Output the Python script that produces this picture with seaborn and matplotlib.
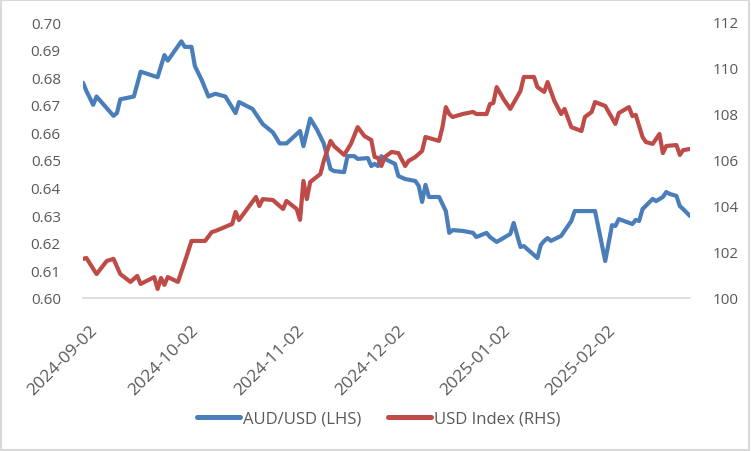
import matplotlib
matplotlib.use("Agg")
import matplotlib.pyplot as plt
import matplotlib.dates as mdates
import matplotlib.ticker as mticker
import matplotlib.transforms as mtransforms
from matplotlib.lines import Line2D
from matplotlib.patches import Rectangle
import seaborn as sns
import pandas as pd

# ---------------- data ----------------
aud_dates = [
    "2024-09-02", "2024-09-03", "2024-09-05", "2024-09-06", "2024-09-11", "2024-09-12",
    "2024-09-13", "2024-09-17", "2024-09-19", "2024-09-24", "2024-09-26", "2024-09-27",
    "2024-10-01", "2024-10-02", "2024-10-04", "2024-10-05", "2024-10-07", "2024-10-09",
    "2024-10-11", "2024-10-14", "2024-10-17", "2024-10-18", "2024-10-22", "2024-10-25",
    "2024-10-28", "2024-10-30", "2024-11-01", "2024-11-05", "2024-11-06", "2024-11-08",
    "2024-11-10", "2024-11-12", "2024-11-13", "2024-11-14", "2024-11-15", "2024-11-18",
    "2024-11-19", "2024-11-21", "2024-11-22", "2024-11-25", "2024-11-26", "2024-11-27",
    "2024-11-28", "2024-11-29", "2024-11-30", "2024-12-03", "2024-12-04", "2024-12-06",
    "2024-12-09", "2024-12-10", "2024-12-11", "2024-12-12", "2024-12-13", "2024-12-16",
    "2024-12-18", "2024-12-19", "2024-12-20", "2024-12-23", "2024-12-26", "2024-12-27",
    "2024-12-30", "2024-12-31", "2025-01-02", "2025-01-06", "2025-01-07", "2025-01-09",
    "2025-01-10", "2025-01-14", "2025-01-15", "2025-01-16", "2025-01-17", "2025-01-18",
    "2025-01-21", "2025-01-23", "2025-01-24", "2025-01-25", "2025-01-31", "2025-02-03",
    "2025-02-05", "2025-02-06", "2025-02-07", "2025-02-11", "2025-02-12", "2025-02-13",
    "2025-02-14", "2025-02-17", "2025-02-18", "2025-02-20", "2025-02-21", "2025-02-22",
    "2025-02-24", "2025-02-25", "2025-02-26", "2025-02-28",
]
aud_values = [
    0.678, 0.675, 0.670, 0.673, 0.666, 0.667,
    0.672, 0.673, 0.682, 0.680, 0.688, 0.686,
    0.693, 0.691, 0.691, 0.684, 0.679, 0.673,
    0.674, 0.673, 0.667, 0.671, 0.6685, 0.663,
    0.660, 0.656, 0.656, 0.6605, 0.655, 0.665,
    0.661, 0.656, 0.6514, 0.6467, 0.6460, 0.6456,
    0.6514, 0.6514, 0.6504, 0.6507, 0.6478, 0.6486,
    0.6478, 0.6514, 0.6504, 0.6486, 0.6442, 0.6431,
    0.6424, 0.6406, 0.6348, 0.6410, 0.6366, 0.6366,
    0.6315, 0.6236, 0.6246, 0.6243, 0.6236, 0.6221,
    0.6236, 0.6221, 0.6203, 0.6232, 0.6272, 0.6185,
    0.6188, 0.6145, 0.6192, 0.6207, 0.6217, 0.6207,
    0.6225, 0.6261, 0.6279, 0.6315, 0.6315, 0.6134,
    0.6264, 0.6261, 0.6286, 0.6268, 0.6283, 0.6279,
    0.6322, 0.6359, 0.6351, 0.6366, 0.6384, 0.6377,
    0.6370, 0.6333, 0.6322, 0.6297,
]

usd_dates = [
    "2024-09-02", "2024-09-03", "2024-09-06", "2024-09-09", "2024-09-11", "2024-09-13",
    "2024-09-16", "2024-09-18", "2024-09-19", "2024-09-23", "2024-09-24", "2024-09-25",
    "2024-09-26", "2024-09-27", "2024-09-30", "2024-10-02", "2024-10-04", "2024-10-08",
    "2024-10-10", "2024-10-11", "2024-10-16", "2024-10-17", "2024-10-18", "2024-10-23",
    "2024-10-24", "2024-10-25", "2024-10-28", "2024-10-31", "2024-11-01", "2024-11-04",
    "2024-11-05", "2024-11-06", "2024-11-07", "2024-11-08", "2024-11-11", "2024-11-12",
    "2024-11-14", "2024-11-15", "2024-11-18", "2024-11-20", "2024-11-22", "2024-11-24",
    "2024-11-26", "2024-11-27", "2024-11-28", "2024-11-29", "2024-11-30", "2024-12-02",
    "2024-12-04", "2024-12-06", "2024-12-07", "2024-12-09", "2024-12-11", "2024-12-12",
    "2024-12-16", "2024-12-17", "2024-12-18", "2024-12-19", "2024-12-20", "2024-12-23",
    "2024-12-26", "2024-12-27", "2024-12-30", "2024-12-31", "2025-01-01", "2025-01-02",
    "2025-01-04", "2025-01-06", "2025-01-09", "2025-01-10", "2025-01-13", "2025-01-14",
    "2025-01-16", "2025-01-17", "2025-01-19", "2025-01-21", "2025-01-22", "2025-01-24",
    "2025-01-27", "2025-01-28", "2025-01-30", "2025-01-31", "2025-02-03", "2025-02-06",
    "2025-02-07", "2025-02-10", "2025-02-11", "2025-02-12", "2025-02-14", "2025-02-15",
    "2025-02-17", "2025-02-19", "2025-02-20", "2025-02-21", "2025-02-24", "2025-02-25",
    "2025-02-26", "2025-02-28",
]
usd_values = [
    101.70, 101.74, 101.04, 101.61, 101.70, 101.04,
    100.70, 100.96, 100.61, 100.91, 100.39, 100.87,
    100.57, 100.91, 100.70, 101.57, 102.48, 102.48,
    102.87, 102.91, 103.22, 103.74, 103.39, 104.39,
    104.00, 104.30, 104.26, 103.87, 104.22, 103.87,
    103.40, 105.09, 104.30, 105.04, 105.39, 105.96,
    106.83, 106.61, 106.22, 106.70, 107.43, 107.04,
    106.87, 106.13, 106.09, 105.74, 106.13, 106.35,
    106.30, 105.74, 105.96, 106.13, 106.39, 107.00,
    106.83, 107.43, 108.30, 108.00, 107.87, 108.00,
    108.09, 108.00, 108.00, 108.43, 108.48, 109.17,
    108.65, 108.22, 109.00, 109.61, 109.61, 109.17,
    108.96, 109.39, 108.57, 108.00, 108.22, 107.43,
    107.26, 107.87, 108.09, 108.52, 108.35, 107.57,
    108.04, 108.30, 107.91, 107.96, 107.00, 106.78,
    106.70, 107.13, 106.30, 106.61, 106.65, 106.22,
    106.43, 106.48,
]

tick_dates = ["2024-09-02", "2024-10-02", "2024-11-02", "2024-12-02", "2025-01-02", "2025-02-02"]
aud_ticks = [0.60, 0.61, 0.62, 0.63, 0.64, 0.65, 0.66, 0.67, 0.68, 0.69, 0.70]
usd_ticks = [100, 102, 104, 106, 108, 110, 112]
aud_label = "AUD/USD (LHS)"
usd_label = "USD Index (RHS)"

# ---------------- styling ----------------
BLUE = "#4A7EBB"
RED = "#BE4B48"
TXT = "#595959"
GRID = "#D9D9D9"

sns.set_theme(style="white")
plt.rcParams['font.family'] = ['Open Sans', 'DejaVu Sans']

aud_df = pd.DataFrame({"date": pd.to_datetime(aud_dates), "value": aud_values})
usd_df = pd.DataFrame({"date": pd.to_datetime(usd_dates), "value": usd_values})

W, H = 751, 452
fig = plt.figure(figsize=(W / 100, H / 100), dpi=100)
left, right, top, bottom = 83, 690, 23, 299
ax = fig.add_axes([left / W, (H - bottom) / H, (right - left) / W, (bottom - top) / H])
ax2 = ax.twinx()

line_kw = dict(linewidth=3.0, solid_capstyle="round", solid_joinstyle="round", legend=False)
sns.lineplot(data=aud_df, x="date", y="value", ax=ax, color=BLUE, **line_kw)
sns.lineplot(data=usd_df, x="date", y="value", ax=ax2, color=RED, **line_kw)

ax.set_xlim(pd.Timestamp("2024-09-02"), pd.Timestamp("2025-02-28"))
ax.set_ylim(0.60, 0.70)
ax2.set_ylim(100, 112)
ax.set_yticks(aud_ticks)
ax.yaxis.set_major_formatter(mticker.FormatStrFormatter("%.2f"))
ax2.set_yticks(usd_ticks)
ax.set_xticks(pd.to_datetime(tick_dates))
ax.xaxis.set_major_formatter(mdates.DateFormatter("%Y-%m-%d"))

for a in (ax, ax2):
    a.set_xlabel("")
    a.set_ylabel("")
    for s in a.spines.values():
        s.set_visible(False)
    a.grid(False)
    a.set_facecolor("none")
ax.spines["bottom"].set_visible(True)
ax.spines["bottom"].set_color(GRID)
ax.spines["bottom"].set_linewidth(1.2)

ax.tick_params(axis="x", direction="out", length=5, width=1.2, color=GRID,
               labelcolor=TXT, labelsize=12.5, pad=12)
ax.tick_params(axis="y", length=0, labelcolor=TXT, labelsize=11, pad=16)
ax2.tick_params(axis="y", length=0, labelcolor=TXT, labelsize=11, pad=16)
shift = mtransforms.ScaledTranslation(6 / 100, 0, fig.dpi_scale_trans)
for lab in ax.get_xticklabels():
    lab.set_rotation(45)
    lab.set_ha("right")
    lab.set_va("top")
    lab.set_rotation_mode("anchor")
    lab.set_transform(lab.get_transform() + shift)

handles = [Line2D([], [], color=BLUE, lw=3.6, solid_capstyle="round"),
           Line2D([], [], color=RED, lw=3.6, solid_capstyle="round")]
fig.legend(handles, [aud_label, usd_label], loc="center", bbox_to_anchor=(0.504, 0.071),
           ncol=2, frameon=False, handlelength=2.6, handletextpad=0.15,
           columnspacing=1.6, fontsize=12, labelcolor=TXT)

fig.patches.append(Rectangle((0.001, 0.002), 0.997, 0.995, transform=fig.transFigure,
                             fill=False, edgecolor=GRID, linewidth=1.5))

fig.savefig("out.png", dpi=100)
